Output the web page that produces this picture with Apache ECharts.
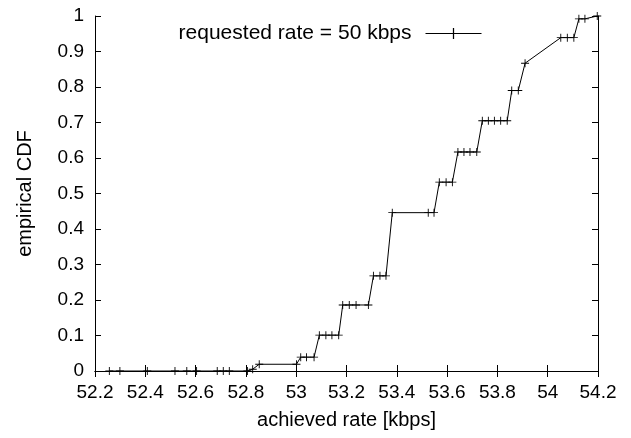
<!DOCTYPE html>
<html>
<head>
<meta charset="utf-8">
<script src="https://cdn.jsdelivr.net/npm/echarts@6/dist/echarts.min.js"></script>
<style>
  html, body { margin: 0; padding: 0; background: #fff; }
  #chart { width: 631px; height: 438px; }
</style>
</head>
<body>
<div id="chart"></div>
<script>
// achieved rate samples [kbps] and their empirical CDF
const rate = [
  52.257, 52.299, 52.408, 52.518, 52.565, 52.604, 52.686, 52.710, 52.734, 52.806,
  52.827, 52.853, 53.001,
  53.018, 53.041, 53.071,
  53.092, 53.118, 53.142, 53.169,
  53.185, 53.211, 53.238, 53.287,
  53.307, 53.333, 53.357,
  53.382, 53.525, 53.548,
  53.569, 53.596, 53.621,
  53.643, 53.667, 53.691, 53.718,
  53.740, 53.764, 53.788, 53.813, 53.839,
  53.857, 53.883,
  53.910,
  54.052, 54.078, 54.104,
  54.124, 54.148,
  54.197
]
const cdf = [
  0, 0, 0, 0, 0, 0, 0, 0, 0, 0,
  0.005, 0.019, 0.019,
  0.039, 0.039, 0.039,
  0.101, 0.101, 0.101, 0.101,
  0.186, 0.186, 0.186, 0.186,
  0.268, 0.268, 0.268,
  0.446, 0.446, 0.446,
  0.532, 0.532, 0.532,
  0.617, 0.617, 0.617, 0.617,
  0.705, 0.705, 0.705, 0.705, 0.705,
  0.79, 0.79,
  0.867,
  0.939, 0.939, 0.939,
  0.992, 0.992,
  1.0
]
const seriesName = 'requested rate = 50 kbps'

const font = 'Liberation Sans, Arial, sans-serif'
const plus = 'path://M0,4H9V5H0Z M4,0H5V9H4Z'

const chart = echarts.init(document.getElementById('chart'))

const tickStyle = { show: true, inside: true, length: 6, lineStyle: { color: '#000', width: 1 } }
const lineStyle = { show: true, lineStyle: { color: '#000', width: 1 } }

const option = {
  animation: false,
  backgroundColor: '#fff',
  grid: { left: 95, right: 33, top: 16, bottom: 67 },
  legend: {
    data: [seriesName],
    right: 149,
    top: 23,
    padding: 0,
    align: 'right',
    itemWidth: 56,
    itemHeight: 14,
    lineStyle: { width: 1 },
    textStyle: { fontFamily: font, fontSize: 21, color: '#000', padding: [0, 9, 0, 0] }
  },
  xAxis: [
    {
      type: 'value', min: 52.2, max: 54.2, interval: 0.2,
      name: 'achieved rate [kbps]', nameLocation: 'middle', nameGap: 39,
      nameTextStyle: { fontFamily: font, fontSize: 20, color: '#000' },
      axisLine: lineStyle, axisTick: tickStyle, splitLine: { show: false },
      axisLabel: { fontFamily: font, fontSize: 19, color: '#000', margin: 12,
        formatter: v => +v.toFixed(1) + '' }
    },
    {
      type: 'value', position: 'top', min: 52.2, max: 54.2, interval: 0.2,
      axisLine: lineStyle, axisTick: tickStyle, axisLabel: { show: false }, splitLine: { show: false }
    }
  ],
  yAxis: [
    {
      type: 'value', min: 0, max: 1, interval: 0.1,
      name: 'empirical CDF', nameLocation: 'middle', nameGap: 60,
      nameTextStyle: { fontFamily: font, fontSize: 20, color: '#000' },
      axisLine: lineStyle, axisTick: tickStyle, splitLine: { show: false },
      axisLabel: { fontFamily: font, fontSize: 19, color: '#000', margin: 11,
        formatter: v => +v.toFixed(1) + '' }
    },
    {
      type: 'value', position: 'right', min: 0, max: 1, interval: 0.1,
      axisLine: lineStyle, axisTick: tickStyle, axisLabel: { show: false }, splitLine: { show: false }
    }
  ],
  series: [
    {
      name: seriesName,
      type: 'line',
      data: rate.map((r, i) => [r, cdf[i]]),
      symbol: plus,
      symbolSize: 8,
      showAllSymbol: true,
      lineStyle: { color: '#000', width: 1 },
      itemStyle: { color: '#000' }
    }
  ]
}

chart.setOption(option)
</script>
</body>
</html>
